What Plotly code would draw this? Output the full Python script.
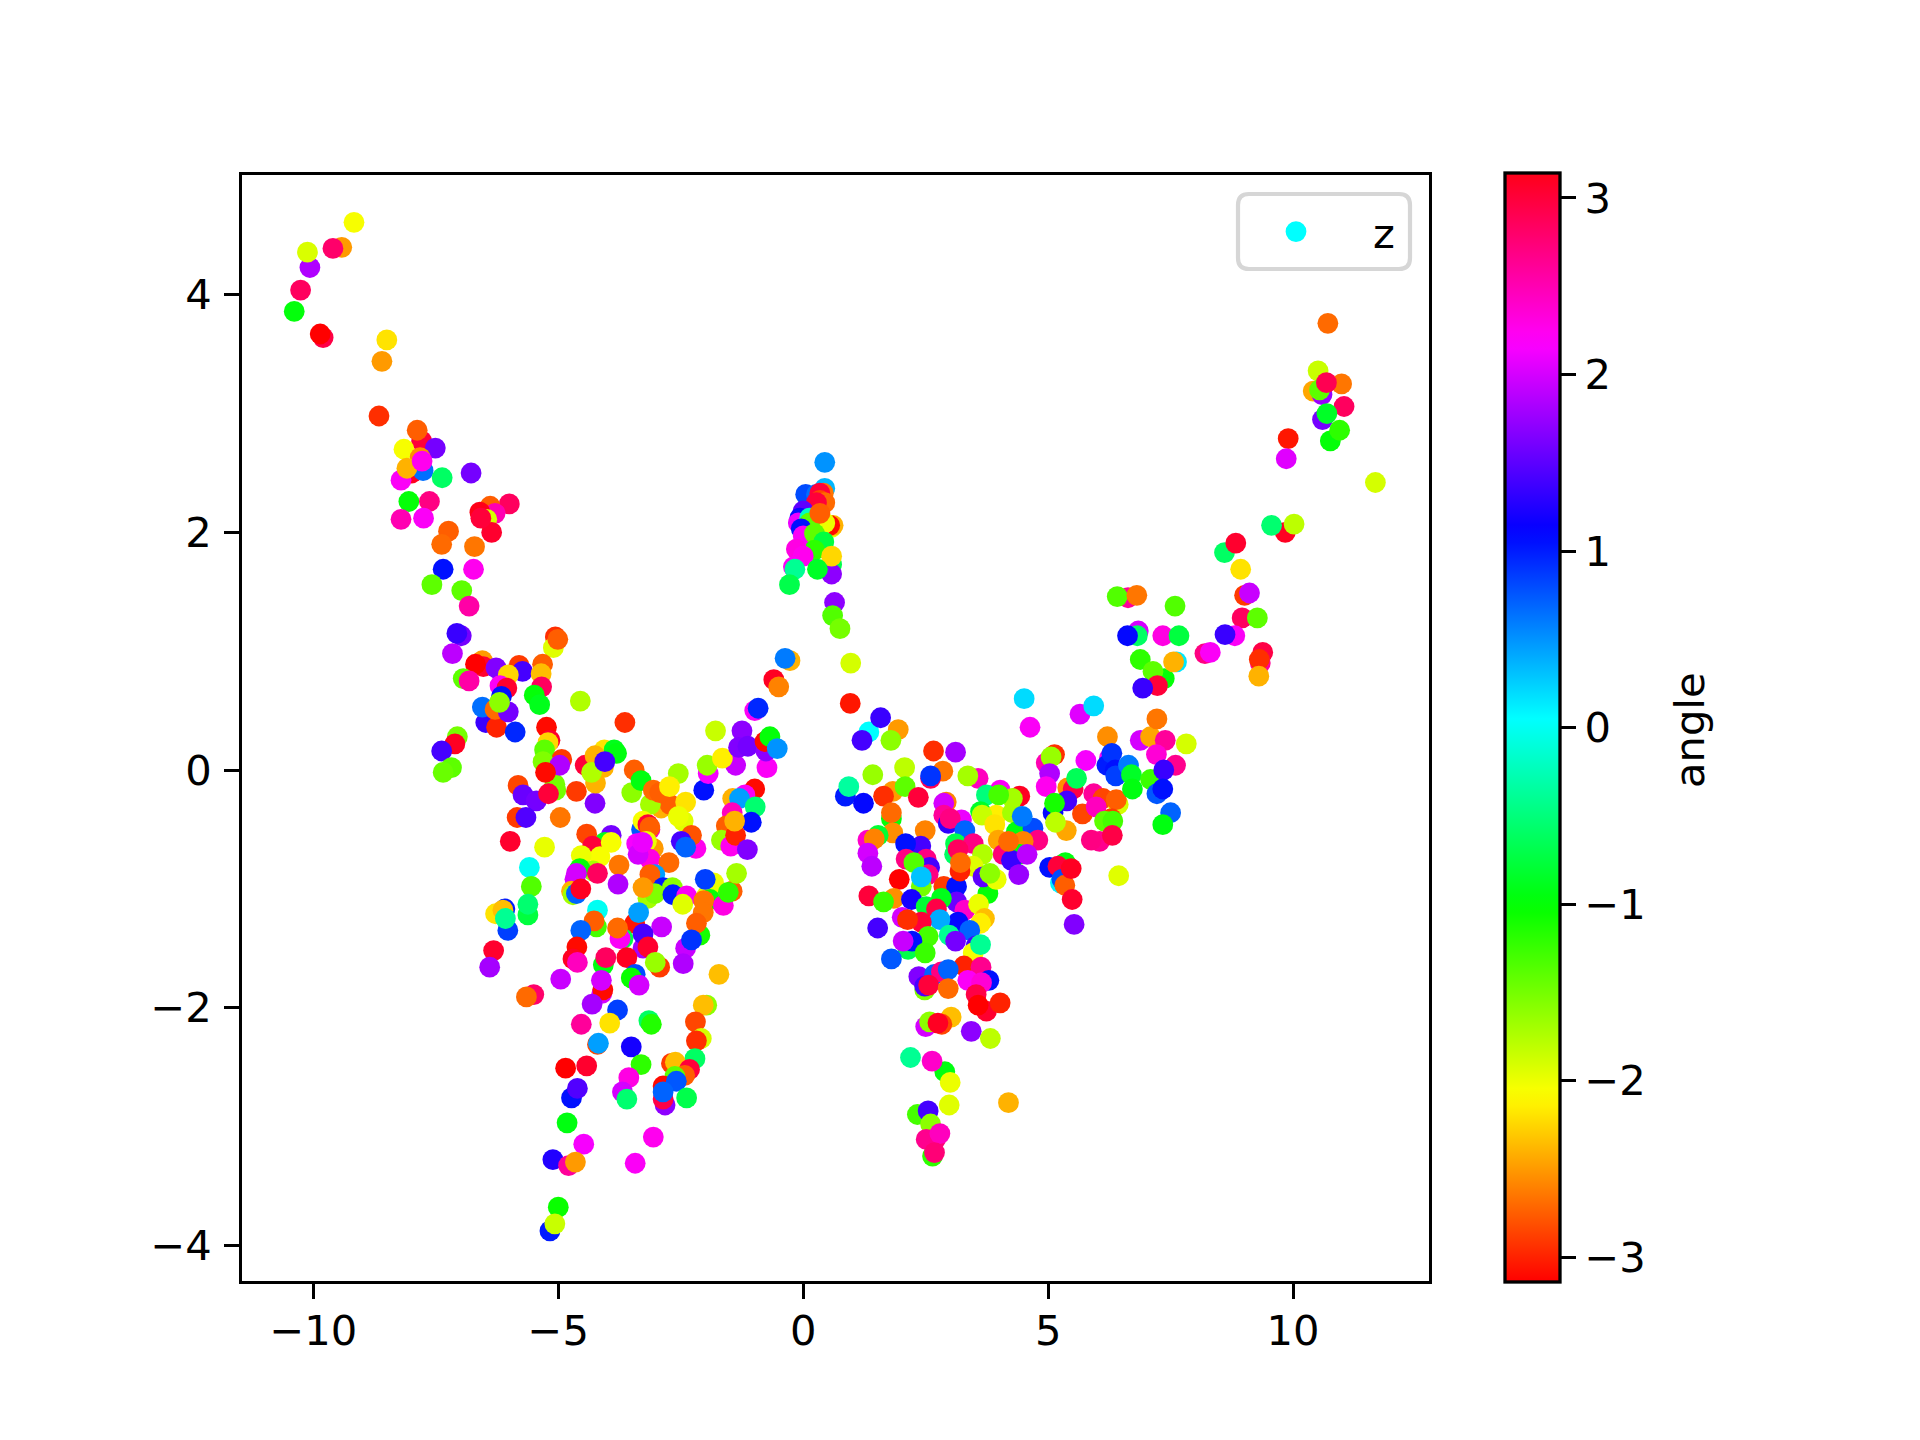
"""Scatter of embedded points coloured by angle."""

import math

import plotly.graph_objects as go

upper_left_x = [
    -9.17, -9.42, -9.60, -10.07, -10.12, -10.26, -10.39, -9.80, -9.86, -8.50,
    -8.60, -8.66, -7.79, -7.88, -8.15, -7.51, -7.99, -7.76, -8.21, -7.82,
    -8.09, -7.78, -7.37, -6.78, -8.05, -7.63, -8.21, -7.75, -6.00, -6.39,
    -6.29, -6.60, -6.46, -6.36, -6.58, -7.24, -7.38, -6.71, -6.73, -7.35,
    -7.58, -6.97, -6.82, -6.98, -7.07, -7.16, -5.06, -5.10, -5.01, -6.55,
    -6.53, -6.69, -6.27, -5.80, -5.73, -5.32, -5.35, -5.34, -6.02, -6.19,
    -6.05, -6.94, -6.82, -6.16, -5.49, -5.38, -4.55, -6.48, -6.26, -6.55,
    -6.29, -6.02, -6.20, -5.88, -5.24, -3.64, -1.79, -1.25,
]
upper_left_y = [
    4.61, 4.40, 4.39, 4.23, 4.36, 4.04, 3.86, 3.64, 3.67, 3.62,
    3.44, 2.98, 2.77, 2.86, 2.70, 2.71, 2.50, 2.52, 2.44, 2.63,
    2.54, 2.60, 2.46, 2.50, 2.26, 2.26, 2.11, 2.12, 2.24, 2.22,
    2.16, 2.17, 2.11, 2.00, 2.12, 2.01, 1.90, 1.88, 1.69, 1.69,
    1.56, 1.51, 1.38, 1.13, 1.15, 0.98, 1.12, 1.03, 1.10, 0.92,
    0.87, 0.89, 0.86, 0.88, 0.83, 0.89, 0.81, 0.70, 0.80, 0.71,
    0.69, 0.77, 0.75, 0.62, 0.63, 0.55, 0.58, 0.40, 0.36, 0.53,
    0.51, 0.49, 0.57, 0.32, 0.36, 0.40, 0.33, 0.33,
]
upper_left_angle = [
    -2.05, -2.5, 2.8, 1.85, -1.92, 2.85, -0.98, 2.95, -3.14, -2.2,
    -2.5, -2.95, 3.0, -2.75, -2.05, 1.6, 3.1, 0.65, 2.2, -2.55,
    -2.4, 2.25, -0.6, 1.6, -1.0, 2.7, 2.5, 2.2, 2.85, -2.75,
    2.5, 3.14, -1.9, 3.05, 3.0, -2.75, -2.7, -2.65, 2.25, 1.05,
    -1.4, -1.4, 2.55, 1.6, 1.35, 1.9, -2.95, -1.95, -2.75, -2.5,
    3.05, -3.14, 1.65, -2.9, 1.4, -2.75, -2.35, 2.85, -2.25, 2.2,
    3.05, -1.4, 2.55, 1.05, -1.0, -0.9, -1.75, 1.35, -3.0, 0.65,
    -2.7, 1.6, -1.6, 0.95, -3.1, -2.95, -1.85, 1.7,
]

left_wing_x = [
    -7.06, -7.11, -7.38, -7.18, -7.35, -5.07, -5.17, -5.21, -5.28, -4.93,
    -5.31, -4.97, -5.26, -5.05, -5.82, -5.72, -5.45, -5.20, -4.63, -4.25,
    -5.84, -5.66, -4.96, -5.98, -5.28, -5.59, -5.55, -5.62, -5.62, -6.03,
    -6.09, -6.28, -6.13, -6.08, -6.32, -6.40, -5.50, -5.65, -4.95, -4.45,
    -4.06, -4.25, -3.86, -3.81, -4.24, -4.08, -4.32, -4.05, -3.45, -3.50,
    -3.31, -2.55, -2.90, -2.72, -3.12, -3.06, -2.93, -2.73, -2.40, -2.45,
    -2.55, -2.03, -1.94, -1.96, -1.38, -1.65, -0.74, -1.32, -1.13, -0.76,
    -0.78, -0.68, -0.53, -0.99, -0.92, -0.99, -1.19, -1.44, -1.30, -0.98,
    -1.45, -1.06, -1.57, -1.67, -1.48, -1.38, -1.40, -1.14, -2.19, -2.28,
    -2.49, -2.40,
]
left_wing_y = [
    0.28, 0.22, 0.16, 0.02, -0.02, -0.12, 0.25, 0.23, 0.17, 0.09,
    0.07, 0.04, -0.02, -0.17, -0.13, -0.21, -0.26, -0.20, -0.18, -0.28,
    -0.40, -0.40, -0.40, -0.60, -0.65, -0.82, -0.98, -1.22, -1.13, -1.35,
    -1.17, -1.21, -1.18, -1.25, -1.52, -1.66, -1.89, -1.91, -1.76, 0.04,
    0.17, 0.12, 0.17, 0.14, -0.11, 0.02, -0.02, 0.07, 0.00, -0.19,
    -0.09, -0.03, -0.32, -0.29, -0.29, -0.17, -0.19, -0.14, -0.27, -0.43,
    -0.39, -0.17, -0.03, 0.04, 0.04, 0.10, 0.02, 0.19, 0.20, 0.16,
    0.24, 0.28, 0.18, 0.50, 0.52, -0.16, -0.21, -0.24, -0.24, -0.31,
    -0.36, -0.44, -0.47, -0.59, -0.64, -0.55, -0.43, -0.67, -0.66, -0.55,
    -0.60, -0.65,
]
left_wing_angle = [
    -1.5, 3.1, 1.4, -1.4, -1.45, -1.5, 3.05, -2.25, -1.4, -2.9,
    -1.55, 1.85, -3.1, -1.5, -2.85, 1.55, 1.6, 3.0, -2.9, 1.65,
    -2.9, 1.45, -2.65, 3.05, -1.98, 0.0, -1.35, -0.75, -0.55, 0.85,
    1.0, -2.2, -2.35, -0.4, 3.05, 1.8, 2.8, -2.7, 1.95, 3.0,
    -2.2, -2.4, -0.9, -0.95, -2.4, -2.4, -1.75, 1.4, -2.75, -1.6,
    -0.95, -1.7, -2.4, -2.75, -1.7, -2.7, -2.75, -2.15, -2.2, -1.95,
    -2.0, 1.05, 2.15, -1.65, 1.95, -2.15, 2.2, 1.65, 1.6, 1.7,
    -3.1, -1.0, 0.5, 2.2, 0.95, -3.1, 2.2, -2.4, 0.45, -0.55,
    2.45, 1.05, -2.75, -1.65, 2.25, -3.0, -2.4, 1.65, 2.25, -2.8,
    1.4, 0.7,
]

left_core_x = [
    -3.30, -3.27, -3.13, -3.17, -3.13, -3.06, -3.20, -3.13, -3.40, -3.37,
    -3.28, -2.74, -4.42, -3.92, -4.05, -4.30, -3.92, -4.15, -4.53, -4.29,
    -4.56, -4.63, -4.20, -3.76, -3.78, -4.66, -4.73, -4.70, -4.63, -4.54,
    -3.03, -3.13, -2.86, -2.67, -3.17, -3.03, -3.27, -2.66, -2.38, -2.46,
    -1.83, -1.97, -1.90, -2.00, -2.03, -1.45, -1.63, -1.53, -1.36, -2.04,
    -2.11, -2.18, -2.40, -2.28, -2.45, -4.20, -4.22, -4.27, -4.54, -4.62,
    -4.70, -4.61, -3.44, -3.36, -3.68, -3.74, -3.79, -2.89, -3.27, -3.27,
    -3.17, -3.60, -4.08, -4.03, -2.93, -3.02, -1.72, -3.43, -3.51, -3.35,
    -4.11, -4.09, -4.12, -4.31, -3.79, -4.53, -3.95, -3.15, -3.10, -4.20,
    -4.18, -3.51, -1.97, -2.04, -2.20, -2.08, -2.18,
]
left_core_y = [
    -0.50, -0.43, -0.50, -0.46, -0.48, -0.66, -0.60, -0.75, -0.62, -0.71,
    -0.61, -0.78, -0.54, -0.55, -0.61, -0.64, -0.61, -0.73, -0.72, -0.85,
    -0.83, -0.87, -0.87, -0.80, -0.96, -0.92, -1.02, -1.05, -1.04, -1.00,
    -0.88, -0.88, -0.99, -0.99, -1.08, -1.04, -0.99, -1.05, -1.06, -1.13,
    -0.95, -1.06, -1.09, -0.92, -1.10, -1.02, -1.14, -1.03, -0.87, -1.20,
    -1.39, -1.29, -1.50, -1.43, -1.63, -1.18, -1.32, -1.27, -1.35, -1.49,
    -1.59, -1.62, -1.29, -1.20, -1.42, -1.42, -1.33, -1.32, -1.50, -1.38,
    -1.49, -1.58, -1.64, -1.58, -1.66, -1.62, -1.72, -1.72, -1.75, -1.81,
    -1.88, -1.85, -1.77, -1.97, -2.02, -2.14, -2.13, -2.11, -2.14, -2.31,
    -2.30, -2.33, -1.98, -1.98, -2.12, -2.26, -2.28,
]
left_core_angle = [
    0.75, -2.05, 2.5, 3.0, -2.75, -2.5, -2.0, 2.3, 2.15, 2.0,
    2.1, -2.7, -2.85, 1.6, -0.9, 3.0, -2.05, -2.05, -2.0, -1.7,
    -1.0, 2.0, 2.85, -2.65, 1.85, 2.0, -2.4, -1.7, 0.7, 3.1,
    0.45, -2.75, 1.0, -1.6, -1.7, -1.55, -2.5, 1.0, 2.2, -1.95,
    -2.0, -2.0, -1.0, 0.85, -2.65, -2.75, 2.3, -1.2, -1.7, -2.65,
    -1.1, -2.75, 1.95, 0.9, 1.85, 0.0, -1.3, -2.75, 0.7, -3.1,
    3.1, 2.45, -3.05, 0.45, -0.7, 2.2, -2.7, 1.95, 1.8, 1.4,
    3.05, 3.1, -0.95, 2.85, -2.9, -1.65, -2.35, 0.8, -1.05, 2.0,
    2.0, -3.1, 2.0, 1.8, 0.85, 2.6, -2.2, -0.6, -1.15, -2.85,
    0.45, 1.2, -1.6, -2.35, -2.85, -1.9, -2.95,
]

lower_left_x = [
    -4.85, -4.42, -3.31, -3.56, -3.69, -3.60, -4.73, -4.61, -2.21, -2.69,
    -2.61, -2.32, -2.42, -2.62, -2.82, -2.86, -2.86, -2.59, -2.86, -2.38,
    -4.82, -4.48, -3.06, -5.11, -4.79, -4.65, -3.43, -5.00, -5.17, -5.07,
]
lower_left_y = [
    -2.51, -2.49, -2.48, -2.59, -2.71, -2.77, -2.76, -2.68, -2.43, -2.47,
    -2.46, -2.52, -2.57, -2.58, -2.82, -2.77, -2.66, -2.62, -2.71, -2.76,
    -2.97, -3.15, -3.09, -3.28, -3.33, -3.30, -3.31, -3.68, -3.88, -3.82,
]
lower_left_angle = [
    -3.14, 3.05, -1.2, 2.3, 2.0, -0.55, 1.05, 1.45, -0.6, -2.9,
    -2.35, 3.0, -2.75, -1.4, 1.7, 2.95, -3.1, 0.75, 0.7, -0.7,
    -0.95, 2.15, 2.25, 1.25, 2.6, -2.5, 2.2, -1.05, 1.0, -1.85,
]

peak_x = [
    0.44, 0.44, 0.05, 0.27, 0.41, 0.34, 0.34, 0.44, 0.27, 0.00,
    -0.07, 0.57, 0.61, 0.54, -0.10, 0.13, 0.44, 0.13, 0.34, -0.04,
    0.00, 0.23, 0.42, 0.23, -0.14, 0.00, -0.20, 0.58, 0.58, 0.58,
    0.29, -0.17, -0.28, 0.64, 0.60, 0.75, 0.97, -0.27, -0.37, -0.60,
    -0.50,
]
peak_y = [
    2.59, 2.37, 2.32, 2.32, 2.33, 2.33, 2.27, 2.25, 2.25, 2.18,
    2.12, 2.04, 2.06, 2.06, 2.08, 2.12, 2.08, 2.08, 2.16, 2.03,
    1.97, 1.99, 1.92, 1.85, 1.86, 1.80, 1.71, 1.73, 1.65, 1.80,
    1.69, 1.69, 1.56, 1.41, 1.30, 1.19, 0.90, 0.92, 0.94, 0.76,
    0.70,
]
peak_angle = [
    0.5, 0.35, 0.8, 0.65, -2.65, 3.0, -2.85, -2.7, 3.0, 1.5,
    1.1, -2.0, -2.4, -3.1, 2.1, -0.2, -2.0, -1.4, -2.75, 1.05,
    2.2, -1.4, -0.75, -1.2, 2.3, 2.25, 2.2, -0.7, 1.7, -2.25,
    -0.85, -0.4, -0.7, 1.7, -1.35, -1.5, -1.9, -2.4, 0.6, 3.1,
    -2.6,
]

right_fan_x = [
    0.96, 1.94, 1.34, 1.58, 1.20, 1.79, 1.42, 2.07, 2.66, 3.11,
    2.85, 2.60, 2.60, 3.57, 3.36, 1.83, 2.08, 1.64, 2.35, 0.86,
    0.93, 1.23, 1.80, 1.80, 2.92, 2.87, 2.49, 1.83, 1.53, 1.32,
    1.45, 1.32, 1.40, 2.40, 2.09, 2.10, 2.51, 2.58, 2.55, 2.26,
    1.96, 2.41, 2.41, 1.34, 1.85, 1.64, 2.87, 3.13, 2.21, 2.51,
    3.13, 3.77, 2.82, 2.72, 3.30, 3.58, 3.70, 3.62, 3.16, 3.40,
    2.79, 2.02, 2.41, 2.13, 2.55, 2.14, 2.22, 2.04, 2.49, 2.98,
    3.11, 3.53, 3.47, 3.62, 1.52, 1.80, 3.28, 3.63, 2.36, 2.68,
    2.82, 2.96, 2.48, 2.48, 2.56, 2.96, 3.79, 3.36, 3.64, 3.53,
    3.74, 4.02, 3.57,
]
right_fan_y = [
    0.56, 0.34, 0.32, 0.44, 0.25, 0.25, -0.04, 0.02, 0.16, 0.15,
    -0.01, -0.07, -0.05, -0.07, -0.05, -0.18, -0.14, -0.22, -0.23, -0.22,
    -0.14, -0.28, -0.41, -0.36, -0.27, -0.28, -0.51, -0.53, -0.55, -0.59,
    -0.58, -0.70, -0.81, -0.64, -0.62, -0.75, -0.75, -0.82, -0.88, -0.78,
    -0.92, -0.98, -0.90, -1.06, -1.08, -1.11, -0.98, -0.98, -1.09, -1.15,
    -1.11, -1.04, -1.08, -1.17, -1.18, -1.13, -1.25, -1.29, -1.28, -1.35,
    -1.26, -1.24, -1.28, -1.26, -1.40, -1.51, -1.44, -1.44, -1.54, -1.39,
    -1.44, -1.48, -1.54, -1.47, -1.33, -1.59, -1.65, -1.66, -1.74, -1.72,
    -1.70, -1.68, -1.85, -1.82, -1.81, -1.84, -1.77, -1.77, -1.79, -1.89,
    -2.03, -1.96, -1.98,
]
right_fan_angle = [
    -3.05, -2.5, 0.05, 1.35, 1.4, -1.6, -1.65, -1.8, -2.95, 1.8,
    -2.65, 2.9, 0.9, 2.45, -1.7, -2.5, -1.4, -2.95, 3.0, 1.0,
    -0.35, 1.1, -1.0, -2.7, -2.6, 2.0, -2.6, -2.55, -0.8, 2.4,
    -2.6, 2.0, 1.9, 1.4, 1.05, 2.7, 2.7, 1.4, 2.7, -1.35,
    -3.14, -1.5, 0.3, 3.0, -2.55, -1.25, -2.9, 1.05, 1.2, -0.8,
    1.55, -1.0, -0.9, 2.95, 2.4, -2.0, -2.35, -2.15, 1.1, 0.7,
    0.4, 2.0, 3.0, -2.95, -1.3, -0.7, 1.05, 1.95, -1.25, -0.4,
    1.6, 1.4, -2.05, -0.4, 1.4, 0.75, -3.0, 2.65, 1.65, 0.7,
    2.7, 0.7, -1.55, 1.4, 3.0, -2.7, 1.05, 2.2, 2.35, 2.95,
    3.05, -3.0, -3.14,
]

lower_right_x = [
    2.19, 2.89, 2.63, 3.00, 2.98, 2.33, 2.55, 2.60, 2.70, 2.51,
    2.79, 2.64, 2.68, 2.50, 2.58, 3.02, 2.83, 2.75, 3.43, 3.82,
    4.19,
]
lower_right_y = [
    -2.42, -2.54, -2.45, -2.63, -2.82, -2.90, -2.87, -2.98, -3.11, -3.11,
    -3.06, -3.25, -3.22, -2.16, -2.12, -2.08, -2.14, -2.13, -2.20, -2.26,
    -2.80,
]
lower_right_angle = [
    -0.4, -0.95, 2.4, -2.0, -1.95, -1.3, 1.4, -1.6, 2.75, 2.65,
    2.45, -1.2, 2.75, 2.0, -1.6, -2.35, -2.85, 3.1, 1.7, -1.8,
    -2.4,
]

right_core_x = [
    4.02, 3.74, 4.42, 4.27, 3.99, 3.62, 3.94, 4.27, 3.65, 3.23,
    2.87, 2.96, 3.00, 3.30, 3.91, 4.35, 4.69, 4.47, 4.79, 4.49,
    3.98, 3.11, 3.47, 3.09, 3.16, 4.42, 4.08, 4.25, 4.57, 4.19,
    3.66, 3.47, 3.20, 3.21, 3.67, 3.94, 3.81, 4.40,
]
right_core_y = [
    -0.17, -0.21, -0.22, -0.24, -0.21, -0.35, -0.38, -0.36, -0.38, -0.42,
    -0.38, -0.45, -0.41, -0.51, -0.46, -0.52, -0.49, -0.39, -0.59, -0.60,
    -0.59, -0.62, -0.62, -0.71, -0.67, -0.71, -0.71, -0.76, -0.71, -0.60,
    -0.71, -0.81, -0.85, -0.78, -0.90, -0.92, -0.87, -0.88,
]
right_core_angle = [
    2.2, -0.5, 3.1, -1.7, -1.3, -0.85, -2.15, -1.7, -1.85, 2.1,
    2.6, 1.3, 2.7, 0.7, -2.2, -0.95, 0.8, 0.6, 2.7, -2.6,
    -2.45, -0.7, 2.7, -0.6, 2.85, -1.0, 2.75, 1.35, 1.9, -2.7,
    -1.75, -1.95, -3.0, -2.7, 1.5, -2.0, -1.6, 1.75,
]

right_mid_x = [
    5.13, 4.96, 5.06, 5.03, 4.96, 5.77, 5.40, 5.51, 5.58, 5.38,
    5.10, 5.13, 5.70, 5.37, 5.15, 5.93, 6.12, 6.43, 6.39, 5.98,
    6.21, 6.25, 6.20, 6.30, 6.37, 6.38, 6.64, 6.70, 6.72, 7.09,
    6.88, 7.09, 7.39, 7.82, 7.21, 7.60, 7.36, 7.22, 7.34, 7.50,
    7.34, 6.05, 5.88, 6.29, 6.15, 6.32, 6.31, 5.03, 5.35, 5.20,
    5.25, 5.28, 5.34, 5.47, 5.49, 5.53, 6.44,
]
right_mid_y = [
    0.13, 0.06, 0.11, -0.03, -0.14, 0.08, -0.15, -0.16, -0.07, -0.26,
    -0.36, -0.28, -0.37, -0.51, -0.44, -0.20, -0.24, -0.29, -0.25, -0.31,
    0.28, 0.10, 0.04, 0.14, 0.00, -0.05, 0.04, -0.04, -0.16, -0.08,
    0.25, 0.28, 0.25, 0.22, 0.13, 0.04, 0.00, -0.20, -0.16, -0.36,
    -0.46, -0.60, -0.59, -0.41, -0.43, -0.43, -0.55, -0.82, -0.78, -0.81,
    -0.95, -0.92, -0.97, -0.83, -1.09, -1.30, -0.89,
]
right_mid_angle = [
    -2.95, 2.5, -1.65, 1.85, 2.25, 2.15, -2.55, 2.95, -0.65, 1.4,
    1.1, -1.1, -2.85, -2.45, -1.8, 2.6, -2.85, -1.9, -2.75, 2.45,
    -2.55, 2.15, 1.0, 0.9, 1.05, 0.85, 0.6, -0.85, -0.95, -1.25,
    2.0, -2.45, 2.6, -1.9, 2.35, 2.65, 1.35, 0.75, 1.05, 0.7,
    -0.95, 2.65, 2.7, -2.9, -1.4, -1.3, 2.95, 1.05, -0.95, 3.0,
    0.1, 0.8, -2.75, 3.1, 3.05, 1.65, -1.95,
]

upper_right_x = [
    10.71, 10.51, 10.99, 10.41, 10.59, 10.54, 10.68, 11.04, 10.60, 10.69,
    10.76, 10.95, 9.90, 9.86, 11.68, 9.84, 9.56, 10.02, 8.60, 8.83,
    8.93, 9.01, 9.11, 8.96, 9.27, 6.63, 6.41, 6.81, 7.59, 6.84,
    6.82, 6.62, 7.34, 7.67, 8.81, 8.61, 8.20, 8.31, 9.38, 9.33,
    9.31, 9.30, 6.88, 7.37, 7.14, 7.62, 7.56, 7.23, 6.93, 4.51,
    5.65, 5.93, 4.63, 7.22,
]
upper_right_y = [
    3.76, 3.36, 3.25, 3.19, 3.16, 3.20, 3.26, 3.06, 2.95, 3.00,
    2.77, 2.86, 2.79, 2.62, 2.42, 2.00, 2.06, 2.07, 1.83, 1.91,
    1.69, 1.47, 1.49, 1.28, 1.28, 1.45, 1.46, 1.47, 1.38, 1.17,
    1.13, 1.13, 1.13, 1.13, 1.13, 1.14, 0.98, 0.99, 0.99, 0.90,
    0.93, 0.79, 0.93, 0.77, 0.83, 0.91, 0.91, 0.71, 0.69, 0.60,
    0.47, 0.54, 0.36, 0.43,
]
upper_right_angle = [
    -2.7, -1.85, -2.65, -2.45, 1.75, -1.4, 2.9, 2.85, 1.6, -0.85,
    -1.0, -1.2, -3.05, 2.05, -1.9, 3.1, -0.55, -1.8, -0.6, 3.05,
    -2.2, -2.9, 1.95, 2.85, -1.4, 2.6, -1.35, -2.65, -1.35, 2.0,
    -0.6, 1.1, 2.3, -0.75, 2.2, 1.35, 2.7, 2.2, 2.95, 2.6,
    -2.95, -2.4, -1.2, -1.0, -1.4, 0.15, -2.4, 3.0, 1.35, 0.2,
    2.05, 0.2, 2.2, -2.65,
]

x_vals = (upper_left_x + left_wing_x + left_core_x + lower_left_x + peak_x
          + right_fan_x + lower_right_x + right_core_x + right_mid_x + upper_right_x)
y_vals = (upper_left_y + left_wing_y + left_core_y + lower_left_y + peak_y
          + right_fan_y + lower_right_y + right_core_y + right_mid_y + upper_right_y)
angle_vals = (upper_left_angle + left_wing_angle + left_core_angle + lower_left_angle + peak_angle
              + right_fan_angle + lower_right_angle + right_core_angle + right_mid_angle + upper_right_angle)
assert len(x_vals) == len(y_vals) == len(angle_vals)

x_ticks = [-10, -5, 0, 5, 10]
y_ticks = [-4, -2, 0, 2, 4]
angle_ticks = [-3, -2, -1, 0, 1, 2, 3]

HSV = [
    [0.0, "#ff0000"], [0.15873, "#fff000"], [0.174603, "#f7ff00"], [0.333333, "#08ff00"],
    [0.349206, "#00ff10"], [0.507937, "#00ffff"], [0.666667, "#0010ff"], [0.68254, "#0800ff"],
    [0.84127, "#f700ff"], [0.857143, "#ff00f0"], [1.0, "#ff0018"],
]
FONT = "DejaVu Sans"
TEXT_SIZE = 41.67
# the page body keeps its 8px margin, so the figure is that much smaller and shifted
PAGE_MARGIN = 8
W, H = 1920 - 2 * PAGE_MARGIN, 1440 - 2 * PAGE_MARGIN
LINE = 3.3


def px(v):
    return (v - PAGE_MARGIN) / W


def py(v):
    return 1 - (v - PAGE_MARGIN) / H


def rounded_box(x0, y0, x1, y1, r):
    # path in paper coordinates, pixel corners as input
    return (
        f"M {px(x0 + r)} {py(y0)} L {px(x1 - r)} {py(y0)} Q {px(x1)} {py(y0)} {px(x1)} {py(y0 + r)} "
        f"L {px(x1)} {py(y1 - r)} Q {px(x1)} {py(y1)} {px(x1 - r)} {py(y1)} "
        f"L {px(x0 + r)} {py(y1)} Q {px(x0)} {py(y1)} {px(x0)} {py(y1 - r)} "
        f"L {px(x0)} {py(y0 + r)} Q {px(x0)} {py(y0)} {px(x0 + r)} {py(y0)} Z"
    )


fig = go.Figure()
fig.add_trace(
    go.Scatter(
        x=x_vals,
        y=y_vals,
        mode="markers",
        showlegend=False,
        marker=dict(
            size=20.8,
            color=angle_vals,
            colorscale=HSV,
            cmin=-math.pi,
            cmax=math.pi,
            line=dict(width=0),
            colorbar=dict(
                x=px(1505),
                xref="paper",
                xanchor="left",
                y=py(1282),
                yref="paper",
                yanchor="bottom",
                len=1109 / H,
                lenmode="fraction",
                thickness=55,
                thicknessmode="pixels",
                xpad=0,
                ypad=0,
                outlinecolor="black",
                outlinewidth=LINE,
                tickmode="array",
                tickvals=angle_ticks,
                tickprefix="\u200a",
                ticks="outside",
                ticklen=15,
                tickwidth=LINE,
                tickcolor="black",
                tickfont=dict(family=FONT, size=TEXT_SIZE, color="black"),
            ),
        ),
    )
)
# key for the legend only, the colour is the one at angle 0
fig.add_trace(
    go.Scatter(
        x=[None],
        y=[None],
        mode="markers",
        name="z",
        marker=dict(size=16, color="#00ffff", line=dict(width=4.8, color="#00ffff")),
    )
)

fig.update_layout(
    width=W,
    height=H,
    margin=dict(l=0, r=0, t=0, b=0),
    paper_bgcolor="white",
    plot_bgcolor="white",
    font=dict(family=FONT, size=TEXT_SIZE, color="black"),
    legend=dict(
        x=px(1219),
        y=py(232),
        xanchor="left",
        yanchor="middle",
        bgcolor="rgba(0,0,0,0)",
        borderwidth=0,
        itemwidth=144,
        font=dict(family=FONT, size=TEXT_SIZE, color="black"),
    ),
    shapes=[
        dict(
            type="path",
            xref="paper",
            yref="paper",
            path=rounded_box(1238, 194, 1410, 269, 11),
            line=dict(color="#d6d6d6", width=4.2),
            fillcolor="white",
            layer="above",
        )
    ],
    annotations=[
        dict(
            text="angle",
            xref="paper",
            yref="paper",
            x=px(1689),
            y=py(730),
            xanchor="center",
            yanchor="middle",
            textangle=-90,
            showarrow=False,
            font=dict(family=FONT, size=TEXT_SIZE, color="black"),
        )
    ],
)
fig.update_xaxes(
    domain=[px(242.3), px(1428.8)],
    range=[-11.45, 12.77],
    tickmode="array",
    tickvals=x_ticks,
    ticklabelstandoff=-4,
    showgrid=False,
    zeroline=False,
    showline=True,
    mirror=True,
    linecolor="black",
    linewidth=LINE,
    ticks="outside",
    ticklen=15,
    tickwidth=LINE,
    tickcolor="black",
)
fig.update_yaxes(
    domain=[py(1280.6), py(174.7)],
    range=[-4.298, 5.011],
    tickmode="array",
    tickvals=y_ticks,
    ticklabelstandoff=4,
    showgrid=False,
    zeroline=False,
    showline=True,
    mirror=True,
    linecolor="black",
    linewidth=LINE,
    ticks="outside",
    ticklen=15,
    tickwidth=LINE,
    tickcolor="black",
)

fig.write_html("out.html")
